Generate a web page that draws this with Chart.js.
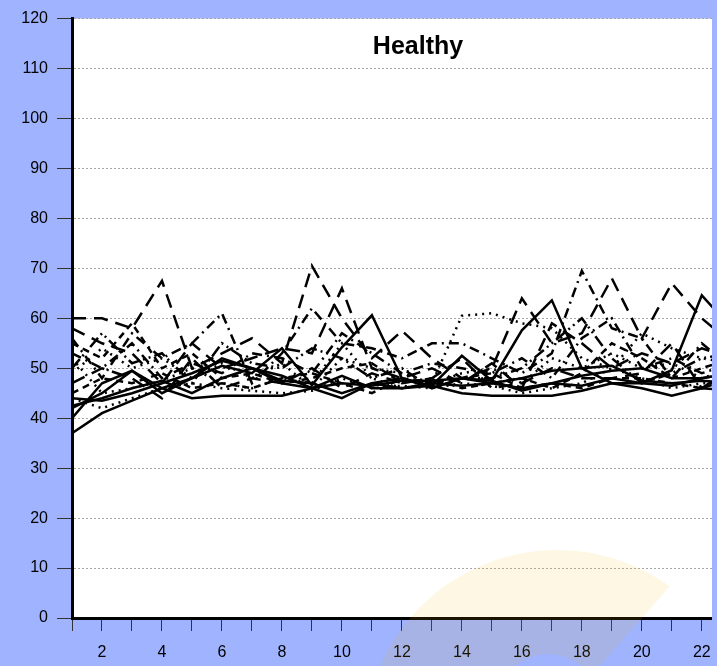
<!DOCTYPE html>
<html lang="en">
<head>
    <meta charset="UTF-8">
    <title>Healthy</title>
    <script src="https://cdnjs.cloudflare.com/ajax/libs/Chart.js/4.4.1/chart.umd.js"></script>
    <style>
        html, body {
            margin: 0;
            padding: 0;
            background-color: #9fb3ff;
        }
        .chart-container {
            width: 717px;
            height: 666px;
            position: relative;
        }
    </style>
</head>
<body>
    <div class="chart-container">
        <canvas id="healthyChart"></canvas>
    </div>

    <script>
        // Categories (x) and y tick values
        const categories = [1, 2, 3, 4, 5, 6, 7, 8, 9, 10, 11, 12, 13, 14, 15, 16, 17, 18, 19, 20, 21, 22, 23];
        const yTickValues = [0, 10, 20, 30, 40, 50, 60, 70, 80, 90, 100, 110, 120];
        const chartTitle = 'Healthy';

        // Series values (one value per category)
        const solidA = [37, 41, 43.5, 46, 44, 44.5, 44.5, 44.5, 46, 44, 47, 46, 46.5, 45, 44.5, 44.5, 44.5, 45.5, 47, 46, 44.5, 46, 45.5];
        const solidB = [44, 43.5, 45, 47, 49, 51.5, 50, 48.5, 46, 47, 46.5, 47.5, 47.5, 48, 47, 48, 49.5, 50, 50.5, 47.5, 47, 47.5, 47];
        const solidC = [42, 45, 49.5, 46, 48, 50.5, 49, 54, 46.6, 54.2, 60.6, 48, 46.5, 52.5, 47.5, 57.6, 63.6, 50, 47, 47, 49.6, 64.6, 58];
        const solidD = [42.5, 44, 46, 47.5, 45, 48, 50, 47, 46, 48.5, 46, 46, 47, 46.5, 47, 46, 47, 48.5, 49.5, 50, 48, 48, 49];
        const solidE = [40, 47, 49.5, 45, 48, 52, 50, 47.5, 47, 45, 47, 48, 46, 48, 47.5, 45.5, 47, 46.5, 48, 47, 46.5, 48, 49];
        const dashF = [60, 60, 58, 67.5, 50, 53, 56, 51, 70.5, 60, 52, 57.5, 52, 48, 50, 64, 55, 57, 68, 56, 67, 60, 55];
        const dashG = [58, 55, 53, 47, 55, 50, 52, 54, 53, 66, 50, 48, 50, 47, 51, 46, 59, 55, 50, 53, 51, 54, 52];
        const dashDotH = [56, 48, 57, 52, 55, 61, 47, 53, 62, 55, 54, 52, 55, 55, 52, 49, 53, 69.5, 58, 56, 48, 55, 50];
        const dotI = [52, 45, 46, 47.5, 50, 47, 46, 48, 47, 55, 48, 46, 47, 60.5, 61, 59, 58, 52, 50, 57, 54, 52, 51];
        const dotJ = [44, 42, 44, 46, 47, 46, 45.5, 45, 45.5, 48, 46, 46.5, 46, 47, 46.5, 45, 46, 47, 50, 48, 46, 47, 47];
        const shortDashK = [55, 52, 59, 50, 53, 48, 49, 47, 48, 50, 51, 47, 48, 46, 47, 48, 46, 49, 55, 52, 48, 50, 52];
        const dashDotDotL = [50, 57, 51, 53, 47, 55, 51, 50, 54, 52, 48, 50, 46, 48, 48, 50, 55, 60, 52, 47, 49, 52, 53];
        const dashM = [47, 50, 48, 44, 52, 46, 48, 47, 50, 46, 49, 47, 48, 52, 46, 47, 50, 48, 48, 49, 55, 46, 50];
        const dashDotN = [53, 50, 55, 48, 51, 49, 53, 52, 49, 57, 53, 49, 51, 50, 49, 52, 48, 56, 60, 50, 52, 49, 51];
        const dotO = [49, 54, 50, 52, 48, 51, 48, 51, 46, 52, 50, 49, 47, 49, 50, 47, 52, 50, 53, 50, 51, 48, 50];
        const shortDashP = [45, 48, 47, 49, 46, 47, 46, 48, 49, 47, 45, 48, 47, 48, 49, 46, 47, 46, 48, 48, 47, 46, 48];

        // Line styles
        const DASH = {
            solid: [],
            longDash: [14, 8],
            shortDash: [7, 5],
            dashDot: [10, 5, 2, 5],
            dashDotDot: [12, 4, 2, 4, 2, 4],
            dot: [2, 5]
        };

        const seriesList = [
            { name: 'A', values: solidA, dash: DASH.solid },
            { name: 'B', values: solidB, dash: DASH.solid },
            { name: 'C', values: solidC, dash: DASH.solid },
            { name: 'D', values: solidD, dash: DASH.solid },
            { name: 'E', values: solidE, dash: DASH.solid },
            { name: 'F', values: dashF, dash: DASH.longDash },
            { name: 'G', values: dashG, dash: DASH.longDash },
            { name: 'H', values: dashDotH, dash: DASH.dashDot },
            { name: 'I', values: dotI, dash: DASH.dot },
            { name: 'J', values: dotJ, dash: DASH.dot },
            { name: 'K', values: shortDashK, dash: DASH.shortDash },
            { name: 'L', values: dashDotDotL, dash: DASH.dashDotDot },
            { name: 'M', values: dashM, dash: DASH.longDash },
            { name: 'N', values: dashDotN, dash: DASH.dashDot },
            { name: 'O', values: dotO, dash: DASH.dot },
            { name: 'P', values: shortDashP, dash: DASH.shortDash }
        ];

        const BLUE = '#9fb3ff';

        // White plot area, title inside it, faint watermark and clipped right edge
        const decorPlugin = {
            id: 'decor',
            beforeDraw(chart) {
                const { ctx, chartArea } = chart;
                ctx.save();
                ctx.fillStyle = '#ffffff';
                ctx.fillRect(chartArea.left, chartArea.top, chartArea.right - chartArea.left, chartArea.bottom - chartArea.top);
                ctx.restore();
            },
            afterDraw(chart) {
                const { ctx, chartArea } = chart;
                ctx.save();
                ctx.font = 'bold 25px "Liberation Sans", Arial, sans-serif';
                ctx.fillStyle = '#000';
                ctx.textAlign = 'center';
                ctx.textBaseline = 'alphabetic';
                ctx.fillText(chartTitle, 418, 54);

                // watermark
                ctx.beginPath();
                ctx.arc(557, 743, 193, Math.atan2(-77, -177), Math.atan2(-150, 108), false);
                ctx.lineTo(600, 666);
                ctx.lineTo(380, 666);
                ctx.closePath();
                ctx.moveTo(600, 706);
                ctx.arc(548, 706, 52, 0, Math.PI * 2);
                ctx.fillStyle = 'rgba(236, 179, 0, 0.105)';
                ctx.fill('evenodd');

                ctx.fillStyle = BLUE;
                ctx.fillRect(chartArea.right, 0, chart.width - chartArea.right, chart.height);
                ctx.restore();
            }
        };

        function createChart() {
            const ctx = document.getElementById('healthyChart');

            new Chart(ctx, {
                type: 'line',
                data: {
                    datasets: seriesList.map(s => ({
                        label: s.name,
                        data: s.values.map((v, i) => ({ x: categories[i], y: v })),
                        borderColor: '#000',
                        borderWidth: 2.5,
                        borderDash: s.dash,
                        pointRadius: 0,
                        fill: false,
                        tension: 0
                    }))
                },
                options: {
                    responsive: true,
                    maintainAspectRatio: false,
                    animation: false,
                    layout: {
                        padding: { top: 18, right: 5, left: 0, bottom: 0 }
                    },
                    plugins: {
                        legend: { display: false },
                        title: { display: false },
                        tooltip: { enabled: false }
                    },
                    scales: {
                        x: {
                            type: 'linear',
                            min: 1,
                            max: 22.34,
                            afterBuildTicks: scale => {
                                scale.ticks = categories.filter(c => c <= 22).map(c => ({ value: c }));
                            },
                            afterFit: scale => {
                                scale.height = 48;
                                scale.paddingLeft = 0;
                                scale.paddingRight = 0;
                            },
                            ticks: {
                                autoSkip: false,
                                maxRotation: 0,
                                padding: 12,
                                color: '#000',
                                font: { family: '"Liberation Sans", Arial, sans-serif', size: 16 },
                                callback: v => (v % 2 === 0 ? v : '')
                            },
                            grid: {
                                drawOnChartArea: false,
                                drawTicks: true,
                                tickLength: 13,
                                tickColor: '#333',
                                tickWidth: 1
                            },
                            border: { color: '#000', width: 3 }
                        },
                        y: {
                            min: 0,
                            max: 120,
                            afterBuildTicks: scale => {
                                scale.ticks = yTickValues.map(v => ({ value: v }));
                            },
                            afterFit: scale => { scale.width = 72; },
                            ticks: {
                                padding: 9,
                                color: '#000',
                                font: { family: '"Liberation Sans", Arial, sans-serif', size: 16 }
                            },
                            grid: {
                                color: c => (c.tick && c.tick.value === 0 ? 'rgba(0,0,0,0)' : '#a6a6a6'),
                                lineWidth: 1,
                                tickLength: 15,
                                tickColor: '#333',
                                tickWidth: 1,
                                tickBorderDash: []
                            },
                            border: { color: '#000', width: 3, dash: [2, 2] }
                        }
                    }
                },
                plugins: [decorPlugin]
            });
        }

        createChart();
    </script>
</body>
</html>
